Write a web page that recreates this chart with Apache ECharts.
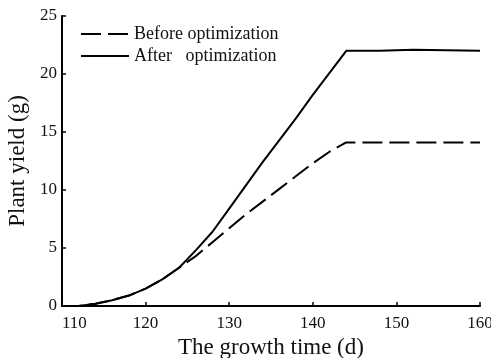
<!DOCTYPE html>
<html>
<head>
<meta charset="utf-8">
<script src="https://cdn.jsdelivr.net/npm/echarts@6/dist/echarts.min.js"></script>
<style>html,body{margin:0;padding:0;background:#fff}#c{width:491px;height:358px}</style>
</head>
<body>
<div id="c"></div>
<script>
var days = [110, 112, 114, 116, 118, 120, 122, 124, 126, 128, 130, 132, 134, 136, 138, 140, 142, 144, 148, 152, 156, 160];
var afterYield = [0, 0, 0.2, 0.5, 0.9, 1.5, 2.3, 3.3, 4.8, 6.4, 8.4, 10.4, 12.4, 14.3, 16.2, 18.2, 20.1, 22.0, 22.0, 22.1, 22.05, 22.0];
var beforeYield = [0, 0, 0.2, 0.5, 0.9, 1.5, 2.3, 3.3, 4.3, 5.5, 6.7, 7.9, 9.0, 10.1, 11.2, 12.3, 13.3, 14.1, 14.1, 14.1, 14.1, 14.1];
var seriesNames = ['Before optimization', 'After   optimization'];
var xTicks = [110, 160, 10];
var yTicks = [0, 25, 5];

function pairs(xs, ys) { return xs.map(function (x, i) { return [x, ys[i]]; }); }

var font = 'Liberation Serif';
var dash = [20, 7];
var chart = echarts.init(document.getElementById('c'));
chart.setOption({
  animation: false,
  backgroundColor: '#fff',
  textStyle: { fontFamily: font },
  grid: { left: 62, right: 11, top: 16, bottom: 52, containLabel: false, outerBoundsMode: 'none' },
  legend: {
    orient: 'vertical', left: 75, top: 20, itemWidth: 48, itemHeight: 14, itemGap: 4,
    textStyle: { fontFamily: font, fontSize: 18, color: '#111' },
    itemStyle: { opacity: 0 },
    data: [
      { name: seriesNames[0], lineStyle: { type: dash, width: 2, color: '#000' } },
      { name: seriesNames[1], lineStyle: { type: 'solid', width: 2, color: '#000' } }
    ]
  },
  xAxis: {
    type: 'value', min: xTicks[0], max: xTicks[1], interval: xTicks[2],
    name: 'The growth time (d)', nameLocation: 'middle', nameGap: 24,
    nameTextStyle: { fontFamily: font, fontSize: 23, color: '#111' },
    axisLine: { lineStyle: { color: '#000', width: 2 } },
    axisTick: { inside: true, length: 4, lineStyle: { color: '#000', width: 1.5 } },
    axisLabel: { fontFamily: font, fontSize: 17, color: '#111', margin: 9, alignMinLabel: 'left' },
    splitLine: { show: false }
  },
  yAxis: {
    type: 'value', min: yTicks[0], max: yTicks[1], interval: yTicks[2],
    name: 'Plant yield (g)', nameLocation: 'middle', nameGap: 29,
    nameTextStyle: { fontFamily: font, fontSize: 23, color: '#111' },
    axisLine: { show: true, lineStyle: { color: '#000', width: 2 } },
    axisTick: { show: true, inside: true, length: 4, lineStyle: { color: '#000', width: 1.5 } },
    axisLabel: { fontFamily: font, fontSize: 17, color: '#111', margin: 5 },
    splitLine: { show: false }
  },
  series: [
    {
      name: seriesNames[0], type: 'line', data: pairs(days, beforeYield),
      symbol: 'none', z: 2,
      lineStyle: { color: '#000', width: 2, type: dash },
      itemStyle: { color: '#000' }
    },
    {
      name: seriesNames[1], type: 'line', data: pairs(days, afterYield),
      symbol: 'none', z: 3,
      lineStyle: { color: '#000', width: 2, type: 'solid' },
      itemStyle: { color: '#000' }
    }
  ]
});
</script>
</body>
</html>
